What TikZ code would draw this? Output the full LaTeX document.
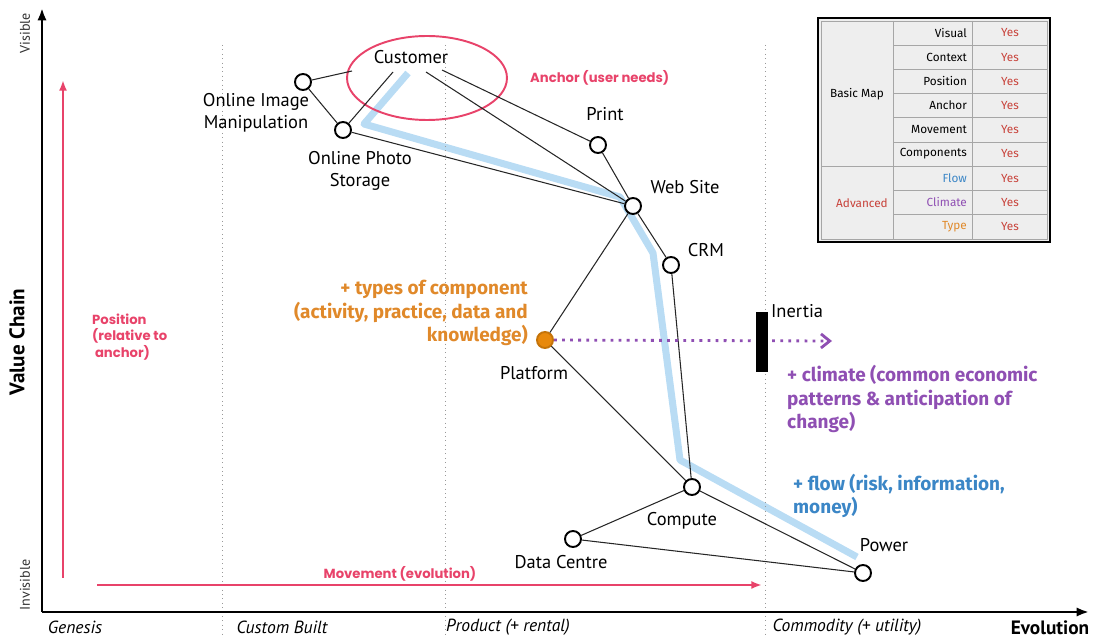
\documentclass[tikz,border=0pt]{standalone}
\usepackage{fontspec}
\setmainfont{PT Sans}
\newfontfamily\geofont{Poppins}
\newfontfamily\handfont{Fira Sans}
\definecolor{pinkred}{HTML}{E8436A}
\definecolor{flowblue}{HTML}{B9DCF4}
\definecolor{noteblue}{HTML}{3B86C6}
\definecolor{climpurple}{HTML}{8F4FB3}
\definecolor{typeorange}{HTML}{E0892A}
\definecolor{platorange}{HTML}{E8890C}
\definecolor{yesred}{HTML}{C8423A}
\definecolor{tablegray}{HTML}{EEEEEE}
\usetikzlibrary{arrows.meta, shapes.geometric, positioning, backgrounds}

\tikzset{
  comp/.style = {circle, draw, line width=1.1pt, fill=white, minimum size=0.32cm, inner sep=0pt},
  lbl/.style = {font=\fontsize{10.5}{12.5}\selectfont, align=center, inner sep=1pt},
  link/.style = {draw=black!85, line width=0.6pt},
  era/.style = {font=\itshape\fontsize{10}{11}\selectfont},
  pinknote/.style = {text=pinkred, font=\geofont\bfseries\fontsize{7.5}{9.6}\selectfont, align=left},
  note/.style = {font=\handfont\bfseries\fontsize{10.8}{13.6}\selectfont},
  tabtext/.style = {font=\handfont\fontsize{6.7}{7}\selectfont, inner sep=1pt},
  gridline/.style = {draw=black!35, line width=0.4pt},
  evoline/.style = {draw=black!40, dotted, line width=0.5pt}
}

\begin{document}
\begin{tikzpicture}[x=0.02cm, y=-0.02cm]
\useasboundingbox (0,0) rectangle (1093,638);

% evolution stages
\foreach \xx in {222, 445, 765}
  \draw[evoline] (\xx,45) -- (\xx,638);

% axes
\draw[line width=1.6pt, -{Latex[length=7pt]}] (42,612) -- (42,8);
\draw[line width=1.6pt, -{Latex[length=7pt]}] (42,612) -- (1089,612);
\node[rotate=90, font=\fontsize{8}{9}\selectfont, text=black!80] (visible) at (25,33) {Visible};
\node[rotate=90, font=\fontsize{8}{9}\selectfont, text=black!80] (invisible) at (25,585) {Invisible};
\node[rotate=90, font=\bfseries\fontsize{12}{13}\selectfont] (valuechain) at (17,342) {Value Chain};
\node[era] (genesis) at (75,627) {Genesis};
\node[era] (custom) at (282,627) {Custom Built};
\node[era] (product) at (508,627) {Product (+ rental)};
\node[era] (commodity) at (847,627) {Commodity (+ utility)};
\node[font=\bfseries\fontsize{11}{12}\selectfont] (evolution) at (1050,628) {Evolution};

% position and movement
\draw[pinkred, line width=1.4pt, -{Latex[length=6pt]}] (63,578) -- (63,80);
\draw[pinkred, line width=1.4pt, -{Latex[length=6pt]}] (97,585) -- (762,585);
\node[pinknote, anchor=west] (position) at (86,337) {Position\\(relative to\\\ anchor)};
\node[pinknote] (movement) at (400,574) {Movement (evolution)};

% components
\node[lbl] (Customer) at (411,57) {Customer};
\node[pinkred, draw, line width=1.1pt, ellipse, minimum width=3.2cm, minimum height=1.68cm] (anchorring) at (427,78) {};
\node[pinknote, anchor=west] (anchornote) at (524,78) {Anchor (user needs)};
\coordinate (cu1) at (352,71);
\coordinate (cu2) at (393,72);
\coordinate (cu3) at (426,72);
\coordinate (cu4) at (442,70);

\node[comp] (oim) at (303,82) {};
\node[comp] (ops) at (343,130) {};
\node[comp] (print) at (598,145) {};
\node[comp] (website) at (633,206) {};
\node[comp] (crm) at (671,265) {};
\node[comp, fill=platorange, draw=platorange!85!black] (platform) at (545,340) {};
\node[comp] (compute) at (692,487) {};
\node[comp] (datacentre) at (573,539) {};
\node[comp] (power) at (863,573) {};

\node[lbl] (oimlbl) at (256,113) {Online Image\\Manipulation};
\node[lbl] (opslbl) at (360,171) {Online Photo\\Storage};
\node[lbl] (printlbl) at (605,114) {Print};
\node[lbl] (websitelbl) at (685,187) {Web Site};
\node[lbl] (crmlbl) at (706,250) {CRM};
\node[lbl] (platformlbl) at (534,373) {Platform};
\node[lbl] (computelbl) at (682,521) {Compute};
\node[lbl] (datacentrelbl) at (561,562) {Data Centre};
\node[lbl] (powerlbl) at (884,545) {Power};

% flow
\begin{scope}[on background layer]
\draw[flowblue, line width=4pt, line join=round] (408,73) -- (364,124) -- (620,197) -- (653,253) -- (680,460) -- (857,557);
\end{scope}

% links
\draw[link] (oim) -- (cu1);
\draw[link] (oim) -- (ops);
\draw[link] (ops) -- (cu2);
\draw[link] (ops) -- (website);
\draw[link] (cu3) -- (website);
\draw[link] (cu4) -- (print);
\draw[link] (print) -- (website);
\draw[link] (website) -- (crm);
\draw[link] (website) -- (platform);
\draw[link] (crm) -- (compute);
\draw[link] (platform) -- (compute);
\draw[link] (compute) -- (datacentre);
\draw[link] (compute) -- (power);
\draw[link] (datacentre) -- (power);

% climate
\coordinate (climend) at (832,341);
\draw[climpurple, line width=1.6pt, dash pattern=on 1.6pt off 3pt, -{Straight Barb[length=5pt, width=8pt]}] (platform) -- (climend);
\node[fill=black, minimum width=0.24cm, minimum height=1.2cm, inner sep=0pt] (inertia) at (762,342) {};
\node[lbl, anchor=west] (inertialbl) at (769,311) {Inertia};

% notes
\node[note, text=typeorange, align=right, anchor=east] (typenote) at (534,313) {+ types of component\\(activity, practice, data and\\knowledge)};
\node[note, text=climpurple, align=left, anchor=west] (climnote) at (781,399) {+ climate (common economic\\patterns \& anticipation of\\change)};
\node[note, text=noteblue, align=left, anchor=west] (flownote) at (787,496) {+ flow (risk, information,\\money)};

% table
\fill[tablegray] (818,18) rectangle (1050,242);
\draw[gridline] (821,21) rectangle (1047,239);
\foreach \r in {1,...,8}
  \draw[gridline] (893,{21+24.2*\r}) -- (1047,{21+24.2*\r});
\draw[gridline] (821,166.2) -- (893,166.2);
\draw[gridline] (893,21) -- (893,239);
\draw[gridline] (972,21) -- (972,239);
\draw[line width=1.5pt] (818,18) rectangle (1050,242);
\foreach \lab/\col [count=\i from 0] in {Visual/black, Context/black, Position/black, Anchor/black, Movement/black, Components/black, Flow/noteblue, Climate/climpurple, Type/typeorange}
{
  \node[tabtext, text=\col, anchor=east] (row\i) at (969,{33+24.2*\i}) {\lab};
  \node[tabtext, text=yesred] (yes\i) at (1010,{33+24.2*\i}) {Yes};
}
\node[tabtext] (basicmap) at (857,94) {Basic Map};
\node[tabtext, text=yesred] (advanced) at (862,203) {Advanced};
\end{tikzpicture}
\end{document}
